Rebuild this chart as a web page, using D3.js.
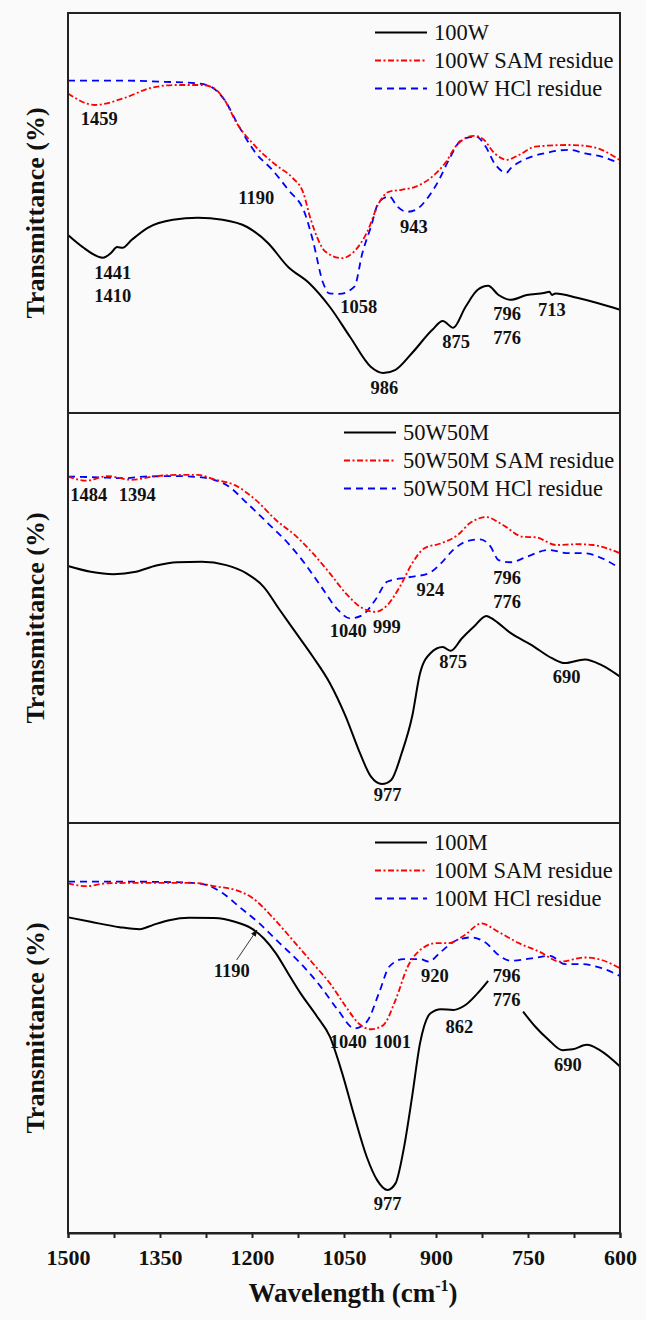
<!DOCTYPE html>
<html><head><meta charset="utf-8">
<script src="https://cdn.jsdelivr.net/npm/d3@7"></script>
<style>
body{margin:0;background:#fafafa}
svg{display:block}
text{font-family:"Liberation Serif","Times New Roman",serif;fill:#111}
</style>
</head><body>
<svg id="chart" width="646" height="1320"></svg>
<script>
// ---------- DATA (wavenumber cm-1, relative transmittance 0-100 within each panel) ----------
const w100W = [1500,1477,1443,1430,1420,1411,1396,1370,1329,1288,1248,1208,1174,1141,1107,1073,1040,1006,986,966,939,906,889,872,852,832,815,798,778,752,724,715,711,705,670,637,600];
const t100W = [44.5,41.6,38.8,40,41.5,41.3,43.3,46.3,48.3,48.8,48.3,46.5,42.5,36.5,32.5,26.5,19,11.5,10,10.8,15,20.8,23,21.3,26.5,30.8,31.8,29.5,28.3,29.5,30,30.3,29.5,29.9,28.8,27.5,25.8];
const w100WSAM = [1500,1456,1409,1362,1322,1282,1262,1245,1225,1194,1161,1134,1117,1104,1080,1053,1034,1013,993,977,956,933,906,885,866,838,822,805,784,765,738,684,657,630,600];
const t100WSAM = [79.9,77,78.7,81.4,82,82,81.2,78.3,72.5,66.6,62,58.8,55.3,48.3,40.3,38.7,40.3,45,52.5,55.3,55.8,56.6,59.1,62.5,67,69.3,68.3,65,63.3,64.5,66.6,67,66.8,65.8,63.2];
const w100WHCl = [1500,1409,1342,1288,1265,1245,1221,1194,1167,1141,1114,1101,1084,1074,1057,1033,1020,1006,993,976,963,947,933,912,895,879,858,835,819,805,785,778,751,724,684,657,630,600];
const t100WHCl = [83.1,83.1,82.8,82.4,81.4,78.3,71.6,65,60.8,55.8,50,43.3,32.5,29.9,29.8,31.6,40,46.6,52.8,54.1,51.6,50.3,50.8,54.1,58.3,63.3,68.3,69.1,66.6,62.5,60.1,61.2,63.7,64.9,65.8,64.9,64.1,62.4];

const w50W = [1500,1463,1426,1389,1356,1322,1282,1242,1209,1181,1155,1128,1101,1073,1047,1026,1006,988,973,956,939,926,909,889,876,858,838,818,805,778,744,711,690,657,630,600];
const t50W = [62.7,61.3,60.7,61.3,62.8,63.6,63.7,62.9,60.9,57.6,52,46.3,40.6,34.1,25.9,17.8,11.3,9.5,10.5,17,25.9,36.5,41.4,42.9,42,45,47.9,50.5,49.5,46.3,43.4,40.2,39,39.9,38.5,35.7];
const w50WSAM = [1500,1470,1436,1396,1362,1322,1288,1262,1228,1194,1161,1127,1101,1073,1047,1020,999,979,959,939,919,892,865,845,818,791,758,738,704,670,644,600];
const t50WSAM = [84.5,83.5,84.6,83.7,84.5,84.9,84.9,83.8,82.4,78.8,73.9,69.8,65.8,60.9,56,52.4,51.5,53.2,57.6,63.3,67,68.2,70.2,73.1,74.6,72.7,69.8,69.7,67.8,68,67.8,65.8];
const w50WHCl = [1500,1449,1409,1376,1322,1282,1262,1241,1208,1174,1141,1114,1087,1060,1040,1020,999,979,946,912,892,872,852,828,811,798,778,751,717,684,657,630,600];
const t50WHCl = [84.5,84.3,84.1,84.5,84.6,84.3,83.7,82.4,78,73.1,68.2,63.3,57.6,52,49.9,50.7,54.4,58.9,59.9,60.9,63.3,66.6,68.6,69.2,67.4,64.1,63.6,65,66.6,65.8,65.8,64.6,62.1];

const w100M = [1500,1463,1416,1383,1362,1335,1302,1262,1228,1201,1181,1161,1141,1121,1094,1073,1053,1033,1013,996,979,966,953,939,926,909,892,872,852,832,815,790,758,738,717,694,677,654,633,600];
const t100M = [77,75.9,74.6,74.1,75.1,76.3,76.9,76.8,75.9,74.3,71.9,68.2,63.3,58.5,52.8,47.9,39,28.4,18.6,12.9,10.5,12.1,20.2,33.2,46.3,53.6,54.6,54.4,55.6,58.5,61.5,null,54,50.3,47.2,44.6,44.8,45.9,44.6,40.6];
const w100MSAM = [1500,1470,1436,1376,1295,1262,1228,1201,1167,1134,1101,1073,1047,1026,1006,986,966,946,926,899,879,853,826,799,765,731,698,657,630,600];
const t100MSAM = [85.3,84.6,85.3,85.4,85.4,84.6,83.7,81.9,77.1,71.5,65.8,60.9,55.2,51.1,49.7,50.7,56.8,65,69,70.7,70.7,72.7,75.5,73.5,70.7,68.6,66.2,67.2,66.6,64.6];
const w100MHCl = [1500,1409,1309,1275,1248,1221,1188,1155,1121,1088,1060,1033,1013,993,976,953,926,912,892,865,842,818,798,778,744,714,690,664,630,600];
const t100MHCl = [85.7,85.7,85.5,84.9,82.9,79.6,75.5,70.7,65.8,60.1,54.4,49.9,51.5,58.5,65,66.8,66.8,66.2,68.6,71.5,72.1,70.7,67.8,66.4,67,67.6,65.6,65.6,64.6,62.7];

// peak annotations: [text, wavenumber, transmittance]
const labels100W = [["1459",1449,73.5],["1190",1193,53.8],["943",936,46.5],["1441",1427,35],["1410",1427,29.3],["1058",1026,26.5],["986",984,6.3],["875",867,17.8],["796",784,24.9],["776",784,18.8],["713",711,25.8]];
const labels50W = [["1484",1466,80],["1394",1387,80],["1040",1043,46.9],["999",980,47.9],["924",909,57],["796",784,59.8],["776",784,54.1],["875",872,39.3],["690",687,35.7],["977",979,7]];
const labels100M = [["1190",1233,63.9],["1040",1043,46.8],["1001",971,46.7],["920",902,62.8],["862",862,50.3],["796",785,62.8],["776",785,57],["690",685,41.1],["977",979,7.2]];
const arrow100M = [[1225,66.6],[1192,73.9]];

const xTicks = [1500,1425,1350,1275,1200,1125,1050,975,900,825,750,675,600];
const xTickLabels = [1500,1350,1200,1050,900,750,600];
const seriesNames = [["100W","100W SAM residue","100W HCl residue"],["50W50M","50W50M SAM residue","50W50M HCl residue"],["100M","100M SAM residue","100M HCl residue"]];

// ---------- LAYOUT ----------
const left = 68, right = 620;
const tops = [13, 413, 823], bottoms = [413, 823, 1233];
const legendX = [375, 344, 375];
const styles = [
  {stroke:"#000", width:2, dash:null},
  {stroke:"#ff0000", width:1.8, dash:"6,2.5,2,2.5"},
  {stroke:"#0000ff", width:1.8, dash:"7,5"}
];

const svg = d3.select("#chart");
svg.append("rect").attr("width",646).attr("height",1320).attr("fill","#fafafa");

const x = d3.scaleLinear().domain([1500,600]).range([left,right]);

const panels = [
  {series:[[w100W,t100W],[w100WSAM,t100WSAM],[w100WHCl,t100WHCl]], labels:labels100W, arrow:null},
  {series:[[w50W,t50W],[w50WSAM,t50WSAM],[w50WHCl,t50WHCl]], labels:labels50W, arrow:null},
  {series:[[w100M,t100M],[w100MSAM,t100MSAM],[w100MHCl,t100MHCl]], labels:labels100M, arrow:arrow100M}
];

svg.append("defs").append("marker").attr("id","ah").attr("viewBox","0 0 10 10")
  .attr("refX",9).attr("refY",5).attr("markerWidth",7).attr("markerHeight",7).attr("orient","auto")
  .append("path").attr("d","M0,1 L10,5 L0,9 Z").attr("fill","#111");

panels.forEach((p, i) => {
  const y = d3.scaleLinear().domain([0,100]).range([bottoms[i], tops[i]]);
  const g = svg.append("g");
  const line = d3.line().defined(d => d[1] !== null).x(d => x(d[0])).y(d => y(d[1])).curve(d3.curveMonotoneX);
  [2,1,0].forEach(k => {
    const [ws, ts] = p.series[k];
    const data = ws.map((w, j) => [w, ts[j]]);
    const s = styles[k];
    g.append("path").datum(data).attr("d", line).attr("fill","none")
      .attr("stroke", s.stroke).attr("stroke-width", s.width)
      .attr("stroke-dasharray", s.dash).attr("stroke-linejoin","round");
  });
  g.selectAll("text.lab").data(p.labels).join("text").attr("class","lab")
    .attr("x", d => x(d[1])).attr("y", d => y(d[2])).attr("dy","0.35em")
    .attr("text-anchor","middle").attr("font-size",18.5).attr("font-weight","bold")
    .text(d => d[0]);
  if (p.arrow) {
    g.append("line").attr("x1", x(p.arrow[0][0])).attr("y1", y(p.arrow[0][1]))
      .attr("x2", x(p.arrow[1][0])).attr("y2", y(p.arrow[1][1]))
      .attr("stroke","#333").attr("stroke-width",1).attr("marker-end","url(#ah)");
  }
  const lx = legendX[i];
  [19.5, 47.5, 75.5].forEach((dy, k) => {
    const s = styles[k];
    const ly = tops[i] + dy;
    g.append("line").attr("x1", lx).attr("x2", lx + 52).attr("y1", ly).attr("y2", ly)
      .attr("stroke", s.stroke).attr("stroke-width", s.width).attr("stroke-dasharray", s.dash);
    g.append("text").attr("x", lx + 59).attr("y", ly).attr("dy","0.35em")
      .attr("font-size",22.5).text(seriesNames[i][k]);
  });
  svg.append("text").attr("transform", `translate(35,${(tops[i]+bottoms[i])/2}) rotate(-90)`)
    .attr("text-anchor","middle").attr("dy","0.35em").attr("font-size",26).attr("font-weight","bold")
    .text("Transmittance (%)");
  svg.append("rect").attr("x", left).attr("y", tops[i]).attr("width", right-left).attr("height", bottoms[i]-tops[i])
    .attr("fill","none").attr("stroke","#222").attr("stroke-width",2);
});

const axis = d3.axisBottom(x).tickValues(xTicks).tickSize(5).tickPadding(11)
  .tickFormat(d => xTickLabels.includes(d) ? d : "");
const ax = svg.append("g").attr("transform", `translate(0,${bottoms[2]})`).call(axis);
ax.select(".domain").attr("stroke","#222").attr("stroke-width",2);
ax.selectAll(".tick line").attr("stroke","#222").attr("stroke-width",2);
ax.selectAll(".tick text").attr("font-family","'Liberation Serif','Times New Roman',serif")
  .attr("font-size",22).attr("font-weight","bold").attr("fill","#111");

const xt = svg.append("text").attr("x",353).attr("y",1302).attr("text-anchor","middle")
  .attr("font-size",27).attr("font-weight","bold");
xt.append("tspan").text("Wavelength (cm");
xt.append("tspan").attr("font-size",16).attr("dy",-11).text("-1");
xt.append("tspan").attr("dy",11).text(")");
</script>
</body></html>
